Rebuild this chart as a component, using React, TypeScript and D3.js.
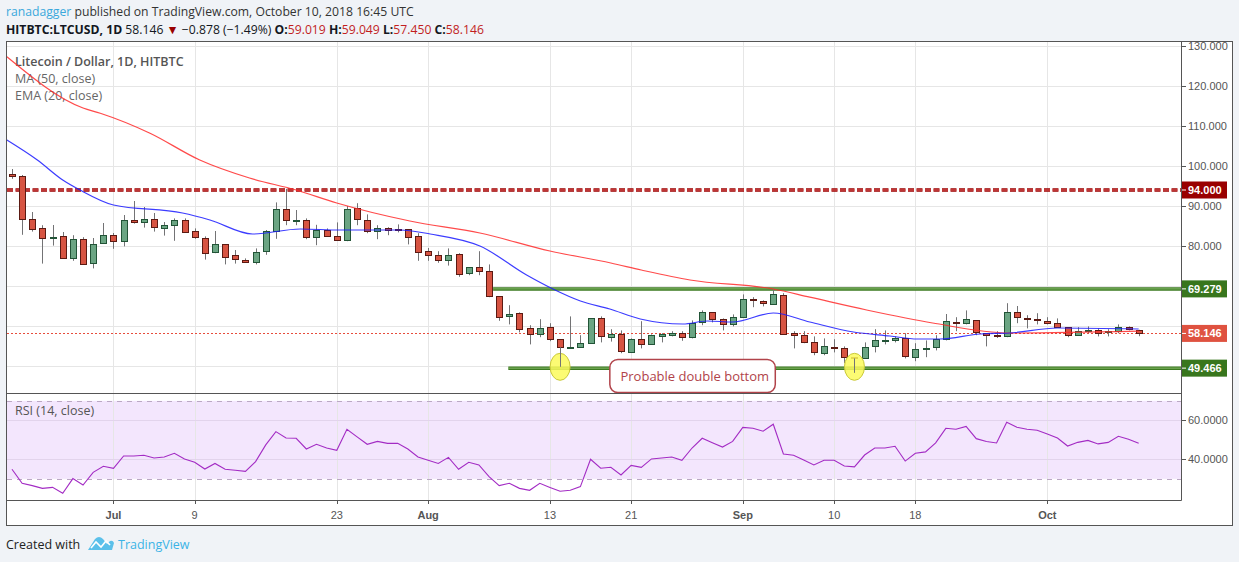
import React, { useEffect, useRef } from "react";
import * as d3 from "d3";

// daily candles, Jun 21 .. Oct 10 2018 (index 0 = Jun 21)
const opens = [
  98.0, 97.5, 86.7, 84.4, 82.0, 82.4, 76.9, 81.7, 75.7, 80.6, 82.7, 81.2, 86.4, 85.9, 86.7, 84.4,
  85.2, 86.4, 83.7, 82.1, 78.4, 80.4, 77.7, 76.6, 76.1, 78.6, 83.7, 89.2, 86.3, 86.4, 82.2, 83.9,
  82.4, 81.4, 89.4, 86.4, 83.7, 84.4, 84.2, 84.2, 82.5, 78.7, 77.7, 76.4, 77.9, 73.2, 74.7, 73.7,
  67.4, 62.4, 63.2, 59.4, 57.9, 59.7, 56.7, 54.6, 54.7, 55.7, 61.9, 57.2, 57.9, 53.4, 56.7, 55.4,
  57.4, 57.9, 58.2, 57.2, 60.9, 63.4, 61.7, 60.4, 62.2, 66.7, 66.2, 65.4, 67.7, 58.2, 57.7, 55.9,
  53.2, 54.7, 54.4, 52.2, 51.9, 55.0, 56.4, 56.4, 56.9, 52.2, 54.4, 54.7, 56.7, 61.0, 60.7, 61.4,
  58.2, 57.7, 57.4, 63.4, 61.9, 61.7, 61.2, 60.7, 59.7, 57.7, 58.9, 58.9, 58.4, 58.7, 59.7, 59.019,
];
const highs = [
  99.25, 97.75, 88.5, 85.2, 85.25, 83.5, 82.7, 82.2, 82.0, 85.75, 83.25, 87.75, 91.25, 89.75, 88.25, 86.0,
  86.9, 86.9, 84.4, 82.4, 83.75, 80.4, 79.0, 76.9, 79.4, 84.0, 90.9, 94.3, 89.0, 86.9, 85.3, 84.4,
  85.9, 90.0, 90.7, 87.9, 85.2, 84.7, 85.4, 84.2, 83.2, 79.5, 78.7, 79.4, 78.2, 74.7, 78.7, 75.4,
  67.4, 65.2, 63.4, 60.2, 61.7, 60.7, 56.7, 62.4, 57.7, 61.9, 62.4, 59.2, 58.9, 56.9, 61.2, 57.9,
  58.2, 58.7, 58.7, 61.4, 63.9, 63.4, 61.9, 62.9, 67.9, 67.2, 66.4, 69.2, 68.2, 58.7, 58.7, 57.4,
  56.9, 56.7, 54.9, 52.2, 55.9, 59.2, 58.9, 57.4, 58.2, 55.7, 56.4, 57.7, 63.0, 62.2, 63.9, 61.4,
  58.2, 58.7, 65.7, 65.0, 62.7, 63.2, 62.2, 61.9, 59.7, 59.7, 59.9, 59.4, 59.2, 60.4, 59.9, 59.049,
];
const lows = [
  96.8, 82.8, 83.6, 75.6, 80.1, 76.9, 76.3, 75.4, 74.4, 80.6, 79.3, 79.9, 85.6, 84.6, 83.6, 82.6,
  81.3, 83.4, 81.8, 76.6, 78.2, 75.4, 75.6, 75.9, 75.4, 77.8, 81.8, 85.2, 85.2, 81.7, 80.2, 82.4,
  81.4, 81.2, 85.2, 83.2, 81.7, 82.7, 83.4, 80.4, 76.3, 76.3, 75.8, 75.1, 72.3, 72.7, 72.7, 67.2,
  61.3, 60.4, 58.4, 55.4, 57.2, 56.2, 49.8, 54.4, 54.7, 55.7, 55.9, 56.1, 53.2, 53.4, 54.4, 55.4,
  55.9, 57.4, 56.3, 56.9, 60.2, 60.9, 58.9, 59.9, 62.2, 64.7, 64.9, 65.4, 57.9, 54.4, 55.7, 52.7,
  52.7, 53.4, 50.7, 48.3, 51.9, 53.4, 55.4, 55.9, 51.9, 51.2, 52.2, 53.9, 56.4, 58.7, 60.4, 57.7,
  54.9, 57.0, 57.2, 60.7, 59.4, 60.4, 60.4, 59.7, 57.2, 57.7, 58.2, 57.4, 57.4, 58.2, 58.9, 57.45,
];
const closes = [
  97.4, 86.7, 84.2, 81.9, 82.2, 76.9, 81.7, 75.4, 80.4, 82.7, 81.2, 86.4, 85.9, 86.7, 84.7, 85.2,
  86.4, 83.4, 82.1, 78.4, 80.4, 77.2, 76.6, 76.1, 78.6, 83.7, 89.2, 86.4, 86.4, 82.2, 83.9, 82.4,
  81.4, 89.2, 86.7, 83.7, 84.4, 83.9, 83.9, 82.2, 78.6, 77.7, 76.4, 77.7, 72.9, 74.7, 73.7, 67.4,
  62.2, 62.9, 59.2, 57.9, 59.4, 56.7, 54.7, 54.8, 55.7, 61.9, 57.4, 57.9, 53.7, 56.7, 55.4, 57.7,
  57.9, 58.3, 57.2, 60.7, 63.4, 61.7, 60.4, 62.2, 66.7, 66.4, 65.7, 67.9, 57.9, 57.7, 55.9, 53.4,
  54.9, 54.5, 52.2, 51.9, 54.7, 56.4, 56.5, 56.9, 52.4, 54.2, 54.5, 56.7, 61.2, 60.9, 61.7, 58.4,
  57.7, 57.4, 63.4, 62.2, 61.7, 61.4, 60.7, 59.7, 57.7, 58.7, 59.0, 58.2, 58.7, 59.7, 59.2, 58.146,
];

// moving averages: [candle index, value]
const ma50: [number, number][] = [
  [-0.5, 127.3], [7, 114.5], [8.7, 113.2], [13.6, 108.2], [18.5, 101.5], [23.4, 97], [28, 94],
  [32, 90.75], [39.2, 86.25], [46.1, 83.25], [53, 78.75], [59, 75.75], [62, 74], [66.8, 71.5],
  [75, 69.25], [78.6, 67.2], [84.2, 64], [90.7, 60.75], [98.3, 58.25], [111, 58.7],
];
const ema20: [number, number][] = [
  [-0.5, 106.5], [2.5, 101.5], [5, 96.5], [6.7, 94], [10, 90.25], [16.8, 88.25], [19.5, 86.5],
  [23.7, 83], [28.4, 84.25], [32.3, 84], [38.2, 84], [41.2, 83], [46.1, 80], [50.7, 72.75],
  [53.3, 69.25], [56, 66.25], [58.9, 64.25], [61.9, 61.75], [66.1, 60.5], [68.5, 61.25], [71, 61],
  [75, 63.25], [78.6, 61], [82.9, 58.5], [86.5, 57.5], [89.2, 56.75], [91.4, 56.75], [95.4, 58],
  [98.3, 58.25], [103, 59.5], [111, 59.25],
];

const rsi = [
  34.9, 27.7, 26.5, 25.1, 25.6, 22.6, 30.1, 26.8, 33.3, 36.4, 35.4, 41.7, 41.7, 42.1, 40.7, 41.2,
  43.1, 40.2, 38.5, 35.0, 37.9, 34.9, 34.4, 33.8, 38.8, 47.4, 54.2, 50.9, 50.8, 45.3, 47.7, 45.8,
  44.6, 55.4, 51.5, 47.7, 49.2, 48.2, 48.2, 45.3, 41.2, 39.5, 37.9, 41.0, 34.9, 38.5, 37.1, 31.1,
  26.5, 27.7, 25.1, 24.1, 27.7, 25.6, 23.6, 24.1, 26.0, 40.0, 35.4, 35.9, 32.0, 36.9, 35.9, 40.2,
  40.7, 41.2, 39.5, 45.8, 50.8, 48.5, 46.3, 49.2, 56.4, 55.9, 54.4, 58.0, 42.7, 42.1, 39.7, 37.1,
  39.5, 39.5, 36.6, 36.1, 42.2, 45.8, 45.8, 46.7, 39.1, 43.1, 43.8, 48.4, 55.9, 55.4, 56.9, 50.6,
  49.1, 48.4, 59.0, 56.4, 55.4, 54.9, 53.0, 50.9, 46.8, 48.7, 49.7, 47.9, 48.7, 51.8, 50.3, 48.2,
];

const dateTickIdx = [10, 18, 32, 41, 53, 61, 72, 81, 89, 102];
const dateTickLabels = ["Jul", "9", "23", "Aug", "13", "21", "Sep", "10", "18", "Oct"];
const priceTicks = [50, 60, 70, 80, 90, 100, 110, 120, 130];
const rsiTicks = [40, 60];

const resistance = 94.0;
const upperLevel = 69.279;
const lowerLevel = 49.466;
const lastClose = 58.146;

const AXIS_FONT = "'Liberation Sans', Arial, sans-serif";
const UI_FONT = "'Open Sans', 'Noto Sans', sans-serif";

const App: React.FC = () => {
  const svgRef = useRef<SVGSVGElement | null>(null);

  useEffect(() => {
    if (!svgRef.current) return;
    const svg = d3.select(svgRef.current);
    svg.selectAll("*").remove();

    const width = 1239;
    const height = 562;
    const frame = { left: 6.5, right: 1232.5, top: 41.5, bottom: 525.5 };
    const plotRight = 1181;
    const mainBottom = 393;
    const rsiTop = 394;
    const rsiBottom = 500;

    svg.attr("width", width).attr("height", height);

    svg.append("rect").attr("width", width).attr("height", height).attr("fill", "#f0f3f7");
    svg
      .append("rect")
      .attr("x", frame.left)
      .attr("y", frame.top)
      .attr("width", frame.right - frame.left)
      .attr("height", frame.bottom - frame.top)
      .attr("fill", "#fff");

    const x = d3.scaleLinear().domain([-0.49, 115.17]).range([7, plotRight]);
    const y = d3.scaleLinear().domain([43.25, 131]).range([mainBottom, 42]);
    const yr = d3.scaleLinear().domain([19.13, 73.5]).range([rsiBottom, rsiTop]);
    const px = (i: number) => Math.round(x(i)) + 0.5;
    const py = (v: number) => Math.round(y(v)) + 0.5;

    // rsi band
    svg
      .append("rect")
      .attr("x", 7)
      .attr("y", yr(70))
      .attr("width", plotRight - 7)
      .attr("height", yr(30) - yr(70))
      .attr("fill", "#f3e6fd");

    // grid
    const grid = svg.append("g").attr("stroke-width", 1);
    grid
      .selectAll("line.v")
      .data(dateTickIdx)
      .join("line")
      .attr("x1", (d) => px(d))
      .attr("x2", (d) => px(d))
      .attr("y1", 42)
      .attr("y2", rsiBottom)
      .attr("stroke", "#e6e6e6");
    grid
      .selectAll("line.h")
      .data(priceTicks)
      .join("line")
      .attr("x1", 7)
      .attr("x2", plotRight)
      .attr("y1", (d) => py(d))
      .attr("y2", (d) => py(d))
      .attr("stroke", "#e6e6e6");
    grid
      .selectAll("line.r")
      .data(rsiTicks)
      .join("line")
      .attr("x1", 7)
      .attr("x2", plotRight)
      .attr("y1", (d) => Math.round(yr(d)) + 0.5)
      .attr("y2", (d) => Math.round(yr(d)) + 0.5)
      .attr("stroke", "#e2d4ec");
    grid
      .selectAll("line.rb")
      .data([70, 30])
      .join("line")
      .attr("x1", 7)
      .attr("x2", plotRight)
      .attr("y1", (d) => Math.round(yr(d)) + 0.5)
      .attr("y2", (d) => Math.round(yr(d)) + 0.5)
      .attr("stroke", "#bba8c4")
      .attr("stroke-dasharray", "5 5");

    // legend
    const legend = svg.append("g").attr("font-family", UI_FONT).attr("font-size", 12.5);
    legend
      .append("text")
      .attr("x", 15)
      .attr("y", 66)
      .attr("fill", "#555")
      .attr("font-weight", 600)
      .text("Litecoin / Dollar, 1D, HITBTC");
    legend.append("text").attr("x", 15).attr("y", 83).attr("fill", "#666").text("MA (50, close)");
    legend.append("text").attr("x", 15).attr("y", 100).attr("fill", "#666").text("EMA (20, close)");
    legend.append("text").attr("x", 15).attr("y", 415).attr("fill", "#555").text("RSI (14, close)");

    // 94 resistance
    svg
      .append("line")
      .attr("x1", 7)
      .attr("x2", plotRight)
      .attr("y1", y(resistance))
      .attr("y2", y(resistance))
      .attr("stroke", "#9b0000")
      .attr("stroke-width", 3.5)
      .attr("stroke-dasharray", "6 2.5");
    svg
      .append("line")
      .attr("x1", 7)
      .attr("x2", plotRight)
      .attr("y1", y(resistance))
      .attr("y2", y(resistance))
      .attr("stroke", "#e36a6a")
      .attr("stroke-width", 1)
      .attr("stroke-dasharray", "6 2.5");

    // green range lines
    const levelLines: [number, number][] = [
      [47.4, upperLevel],
      [48.9, lowerLevel],
    ];
    levelLines.forEach(([start, v]) => {
      svg
        .append("line")
        .attr("x1", x(start))
        .attr("x2", plotRight)
        .attr("y1", y(v))
        .attr("y2", y(v))
        .attr("stroke", "#3b7a20")
        .attr("stroke-width", 3.5);
      svg
        .append("line")
        .attr("x1", x(start))
        .attr("x2", plotRight)
        .attr("y1", y(v))
        .attr("y2", y(v))
        .attr("stroke", "#86b96a")
        .attr("stroke-width", 1);
    });

    // last price line
    svg
      .append("line")
      .attr("x1", 7)
      .attr("x2", plotRight)
      .attr("y1", py(lastClose))
      .attr("y2", py(lastClose))
      .attr("stroke", "#e74c3c")
      .attr("stroke-dasharray", "2 2");

    // candles
    const idx = d3.range(opens.length);
    const candles = svg.append("g");
    candles
      .selectAll("line")
      .data(idx)
      .join("line")
      .attr("x1", (i) => px(i))
      .attr("x2", (i) => px(i))
      .attr("y1", (i) => y(highs[i]))
      .attr("y2", (i) => y(lows[i]))
      .attr("stroke", "#737375");
    candles
      .selectAll("rect")
      .data(idx)
      .join("rect")
      .attr("x", (i) => px(i) - 3)
      .attr("y", (i) => Math.round(y(Math.max(opens[i], closes[i]))) + 0.5)
      .attr("width", 6)
      .attr("height", (i) => Math.max(1, Math.round(Math.abs(y(opens[i]) - y(closes[i])))))
      .attr("fill", (i) => (closes[i] >= opens[i] ? "#6ba583" : "#d75442"))
      .attr("stroke", (i) => (closes[i] >= opens[i] ? "#225437" : "#5b1a13"));

    // MA / EMA
    const line = d3
      .line<[number, number]>()
      .x((d) => x(d[0]))
      .y((d) => y(d[1]))
      .curve(d3.curveMonotoneX);
    svg
      .append("path")
      .attr("d", line(ma50))
      .attr("fill", "none")
      .attr("stroke", "#ff2a2a")
      .attr("stroke-opacity", 0.85)
      .attr("stroke-width", 1.2);
    svg
      .append("path")
      .attr("d", line(ema20))
      .attr("fill", "none")
      .attr("stroke", "#1a1aff")
      .attr("stroke-opacity", 0.85)
      .attr("stroke-width", 1.2);

    // yellow markers on the two lows
    [54, 83].forEach((i) => {
      svg
        .append("ellipse")
        .attr("cx", x(i))
        .attr("cy", y(49.8))
        .attr("rx", 10)
        .attr("ry", 13.5)
        .attr("fill", "#fbfa5a")
        .attr("fill-opacity", 0.85)
        .attr("stroke", "#c9c83a")
        .attr("stroke-width", 1);
    });
    // the wicks of those two candles show through the markers
    [54, 83].forEach((i) => {
      svg
        .append("line")
        .attr("x1", px(i))
        .attr("x2", px(i))
        .attr("y1", y(Math.min(opens[i], closes[i])))
        .attr("y2", y(lows[i]))
        .attr("stroke", "#737375");
    });

    // annotation
    const note = svg.append("g");
    note
      .append("rect")
      .attr("x", x(58.9))
      .attr("y", 359.5)
      .attr("width", x(75.2) - x(58.9))
      .attr("height", 33)
      .attr("rx", 8)
      .attr("fill", "#fff")
      .attr("stroke", "#b1434a")
      .attr("stroke-width", 1.5);
    note
      .append("text")
      .attr("x", x(59.95))
      .attr("y", 381)
      .attr("font-family", UI_FONT)
      .attr("font-size", 13)
      .attr("fill", "#b1434a")
      .text("Probable double bottom");

    // RSI line
    const rsiLine = d3
      .line<number>()
      .x((_, i) => x(i))
      .y((d) => yr(d));
    svg
      .append("path")
      .attr("d", rsiLine(rsi))
      .attr("fill", "none")
      .attr("stroke", "#a32cc4")
      .attr("stroke-width", 1.1);

    // frame and separators
    const borders = svg.append("g").attr("stroke", "#555").attr("fill", "none");
    borders
      .append("rect")
      .attr("x", frame.left)
      .attr("y", frame.top)
      .attr("width", frame.right - frame.left)
      .attr("height", frame.bottom - frame.top);
    borders.append("line").attr("x1", plotRight + 0.5).attr("x2", plotRight + 0.5).attr("y1", frame.top).attr("y2", rsiBottom + 0.5);
    borders.append("line").attr("x1", frame.left).attr("x2", plotRight + 0.5).attr("y1", mainBottom + 0.5).attr("y2", mainBottom + 0.5);
    borders.append("line").attr("x1", frame.left).attr("x2", plotRight + 0.5).attr("y1", rsiBottom + 0.5).attr("y2", rsiBottom + 0.5);

    // price labels drawn as tags on the axis
    const tags: [number, string][] = [
      [resistance, "#990000"],
      [upperLevel, "#38761d"],
      [lastClose, "#df5240"],
      [lowerLevel, "#38761d"],
    ];

    // right price axis (tick labels hidden under a tag are skipped)
    const axis = svg.append("g").attr("font-family", AXIS_FONT).attr("font-size", 11).attr("fill", "#555");
    const fmt3 = d3.format(".3f");
    const fmt4 = d3.format(".4f");
    const freeTicks = priceTicks.filter((t) => tags.every(([v]) => Math.abs(y(t) - y(v)) > 11));
    axis
      .selectAll("line.p")
      .data(priceTicks)
      .join("line")
      .attr("x1", plotRight + 1)
      .attr("x2", plotRight + 5)
      .attr("y1", (d) => py(d))
      .attr("y2", (d) => py(d))
      .attr("stroke", "#555");
    axis
      .selectAll("text.p")
      .data(freeTicks)
      .join("text")
      .attr("x", plotRight + 7)
      .attr("y", (d) => y(d) + 4)
      .text((d) => fmt3(d));
    axis
      .selectAll("line.r")
      .data(rsiTicks)
      .join("line")
      .attr("x1", plotRight + 1)
      .attr("x2", plotRight + 5)
      .attr("y1", (d) => Math.round(yr(d)) + 0.5)
      .attr("y2", (d) => Math.round(yr(d)) + 0.5)
      .attr("stroke", "#555");
    axis
      .selectAll("text.r")
      .data(rsiTicks)
      .join("text")
      .attr("x", plotRight + 7)
      .attr("y", (d) => yr(d) + 4)
      .text((d) => fmt4(d));

    tags.forEach(([v, color]) => {
      const cy = y(v);
      axis
        .append("rect")
        .attr("x", plotRight + 1)
        .attr("y", cy - 8.5)
        .attr("width", 45)
        .attr("height", 17)
        .attr("fill", color);
      axis
        .append("line")
        .attr("x1", plotRight + 1)
        .attr("x2", plotRight + 5)
        .attr("y1", cy)
        .attr("y2", cy)
        .attr("stroke", "#fff");
      axis
        .append("text")
        .attr("x", plotRight + 7)
        .attr("y", cy + 4)
        .attr("fill", "#fff")
        .attr("font-weight", "bold")
        .text(fmt3(v));
    });

    // date axis
    const dates = svg.append("g").attr("font-family", AXIS_FONT).attr("font-size", 11).attr("fill", "#555");
    dates
      .selectAll("line")
      .data(dateTickIdx)
      .join("line")
      .attr("x1", (d) => px(d))
      .attr("x2", (d) => px(d))
      .attr("y1", rsiBottom)
      .attr("y2", rsiBottom + 4)
      .attr("stroke", "#555");
    dates
      .selectAll("text")
      .data(dateTickIdx)
      .join("text")
      .attr("x", (d) => x(d))
      .attr("y", 519)
      .attr("text-anchor", "middle")
      .attr("font-weight", (_, i) => (isNaN(Number(dateTickLabels[i])) ? "bold" : "normal"))
      .text((_, i) => dateTickLabels[i]);

    // header
    const header = svg.append("g").attr("font-family", UI_FONT).attr("font-size", 12.2);
    const h1 = header.append("text").attr("x", 6).attr("y", 16).attr("fill", "#333");
    h1.append("tspan").attr("fill", "#3aa8dc").text("ranadagger");
    h1.append("tspan").text(" published on TradingView.com, October 10, 2018 16:45 UTC");

    const h2 = header.append("text").attr("x", 6).attr("y", 34).attr("fill", "#131722");
    h2.append("tspan").attr("font-weight", "bold").text("HITBTC:LTCUSD, 1D");
    h2.append("tspan").text("  58.146 ");
    h2.append("tspan").attr("fill", "#990000").text("▼");
    h2.append("tspan").text(" −0.878 (−1.49%) ");
    const ohlc: [string, string][] = [
      ["O:", "59.019"],
      [" H:", "59.049"],
      [" L:", "57.450"],
      [" C:", "58.146"],
    ];
    ohlc.forEach(([k, v]) => {
      h2.append("tspan").attr("font-weight", "bold").text(k);
      h2.append("tspan").attr("fill", "#c21f1f").text(v);
    });

    // footer
    const foot = svg.append("g").attr("font-family", UI_FONT).attr("font-size", 12.5);
    foot.append("text").attr("x", 6).attr("y", 549).attr("fill", "#222").text("Created with");
    foot
      .append("path")
      .attr("d", "M88,550 L95,539 Q99,535 103,539 L107,544 L110,541 Q113,540 114,543 L112,550 Z")
      .attr("fill", "#5bc0ea");
    foot
      .append("path")
      .attr("d", "M91,548 L96,542 L101,547 L106,541 L110,545")
      .attr("fill", "none")
      .attr("stroke", "#fff")
      .attr("stroke-width", 1.6);
    foot.append("text").attr("x", 118).attr("y", 549).attr("fill", "#3bb3e6").text("TradingView");
  }, []);

  return <svg ref={svgRef} style={{ position: "absolute", left: 0, top: 0 }}></svg>;
};

export default App;
